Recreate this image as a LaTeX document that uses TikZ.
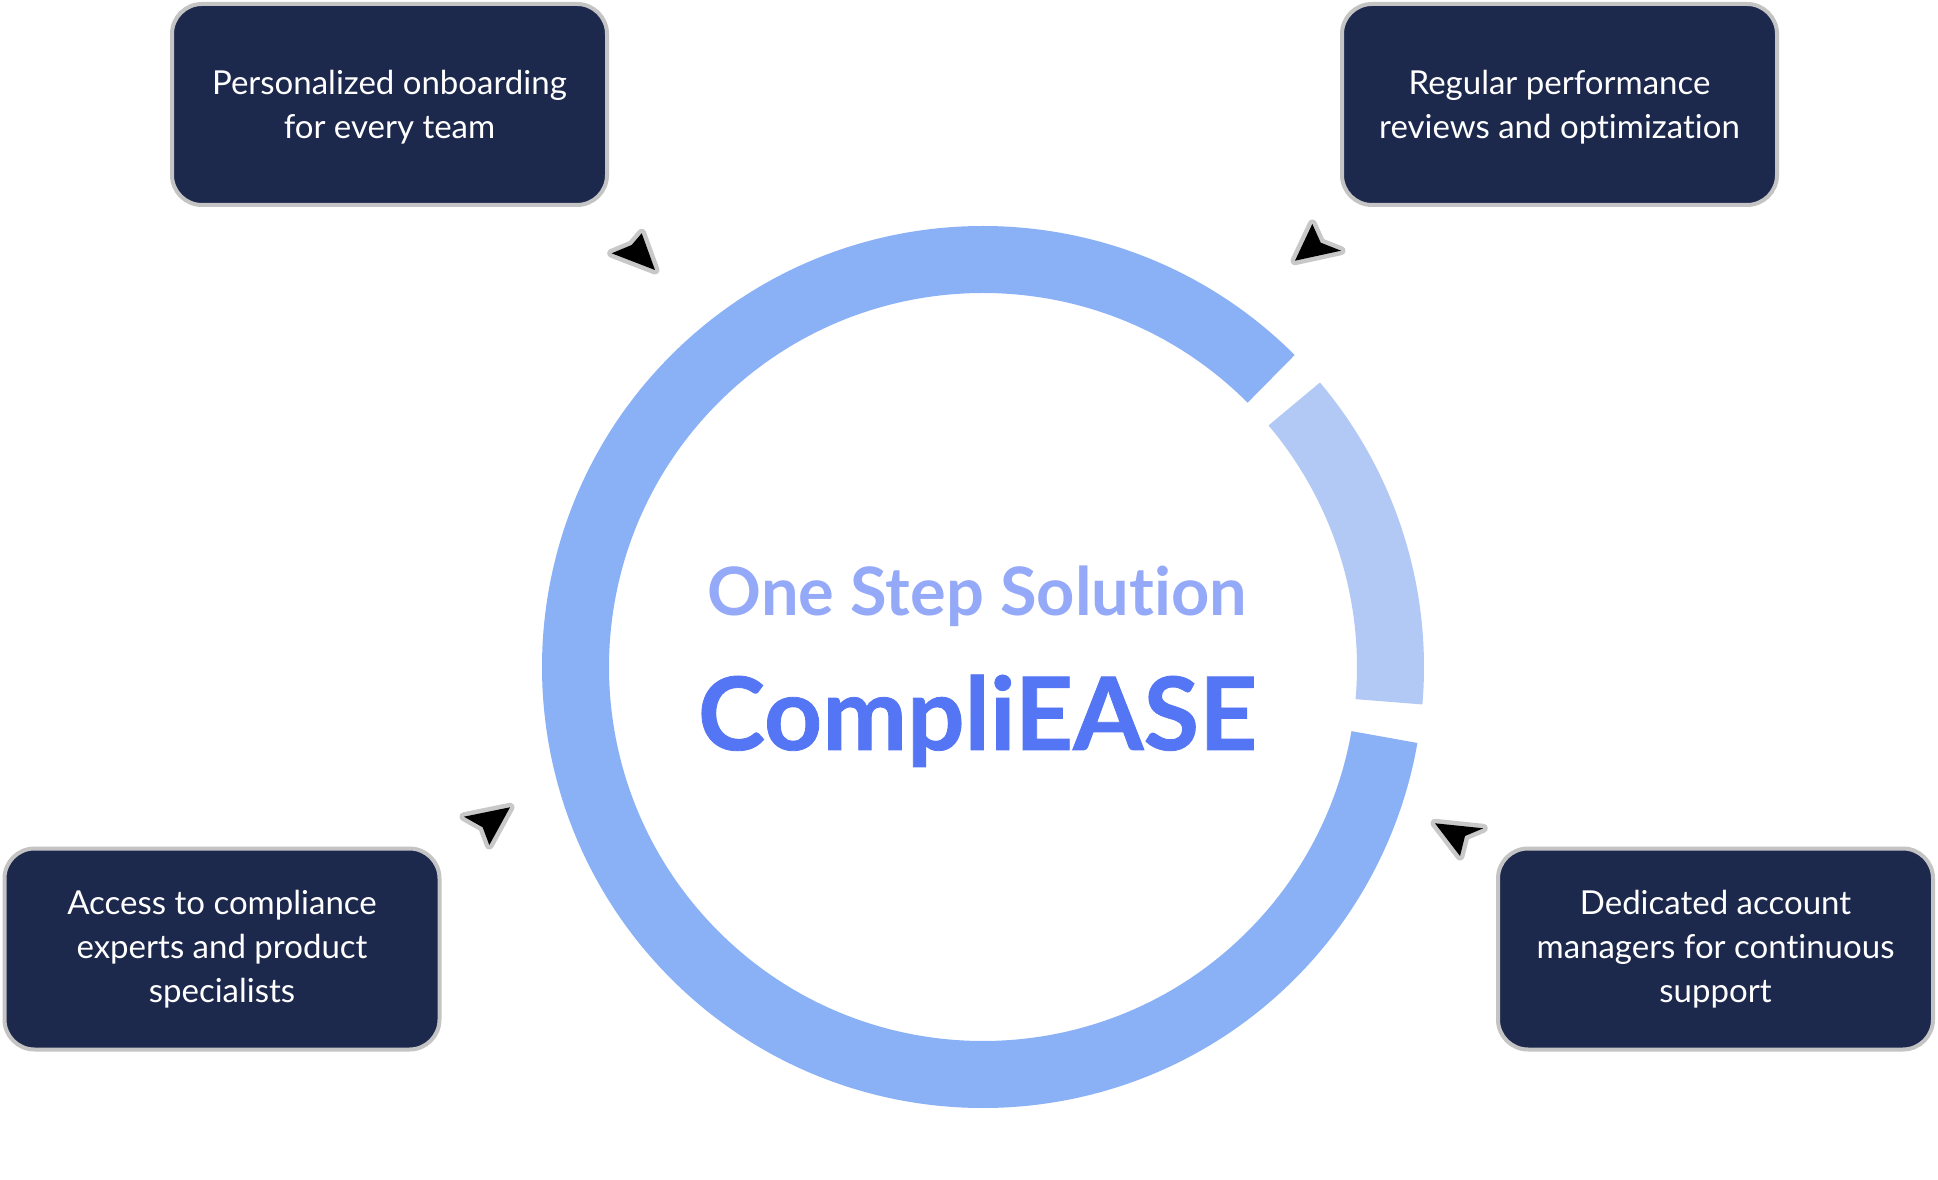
\documentclass[tikz,border=0pt]{standalone}
\usepackage{fontspec}
\setmainfont{Lato}[RawFeature={-liga}]
\newfontfamily\heavyfont{Lato}[RawFeature={-liga}, BoldFeatures={FakeBold=0.8}]
\usepackage{graphicx}
\definecolor{boxfill}{HTML}{1D284D}
\definecolor{boxline}{HTML}{C4C4C4}
\definecolor{ringmain}{HTML}{8AB1F6}
\definecolor{ringlight}{HTML}{B2C8F5}
\definecolor{titlec}{HTML}{94A9F7}
\definecolor{brandc}{HTML}{5576F4}
\definecolor{arrowline}{HTML}{C8C8C8}
\begin{document}
\begin{tikzpicture}[x=1pt,y=1pt,
  infobox/.style={draw=boxline, line width=4pt, fill=boxfill, rounded corners=30pt,
    minimum width=435pt, minimum height=201pt, inner sep=0pt},
  boxtext/.style={inner sep=0pt, align=center, text=white, font=\fontsize{33}{44}\selectfont},
  cursor/.style={fill=black, preaction={draw=arrowline, line width=9pt, line join=round}},
  ringseg/.style={line width=67pt, line cap=butt}]
\useasboundingbox (0,0) rectangle (1938,1179);
\fill[white] (0,0) rectangle (1938,1179);

% ring
\coordinate (c) at (983,512);
\draw[ringseg, ringmain] (c) ++(45:407.5) arc[start angle=45, end angle=350.1, radius=407.5];
\draw[ringseg, ringlight] (c) ++(-4.9:407.5) arc[start angle=-4.9, end angle=40.2, radius=407.5];

% center texts
\node[anchor=base, inner sep=0pt, text=titlec] (title) at (977.5,563)
  {\resizebox{539pt}{!}{\bfseries One Step Solution}};
\node[anchor=base, inner sep=0pt, text=brandc] (brand) at (977.5,429)
  {\resizebox{559pt}{!}{\heavyfont\bfseries CompliEASE}};

% boxes
\node[infobox] (b1) at (389.5,1074.5) {};
\node[infobox] (b2) at (1559.5,1074.5) {};
\node[infobox] (b3) at (222,230) {};
\node[infobox] (b4) at (1715.5,230) {};
\node[boxtext] (t1) at ([yshift=-3pt]b1.center) {Personalized onboarding\\for every team};
\node[boxtext] (t2) at ([yshift=-3pt]b2.center) {Regular performance\\reviews and optimization};
\node[boxtext] (t3) at ([yshift=0pt]b3.center) {Access to compliance\\experts and product\\specialists};
\node[boxtext] (t4) at ([yshift=0pt]b4.center) {Dedicated account\\managers for continuous\\support};

% cursor arrows
\path[cursor] (641.7,945.7) -- (655,909) -- (611.7,925.7) -- (631.7,934) -- cycle;
\path[cursor] (1312.3,955) -- (1320.7,936.3) -- (1341,928.3) -- (1295,918.3) -- cycle;
\path[cursor] (510,371.7) -- (464,362.3) -- (482.7,351.7) -- (489.3,334) -- cycle;
\path[cursor] (1435,355.7) -- (1483.3,350.7) -- (1465,343) -- (1460,323) -- cycle;
\end{tikzpicture}
\end{document}
